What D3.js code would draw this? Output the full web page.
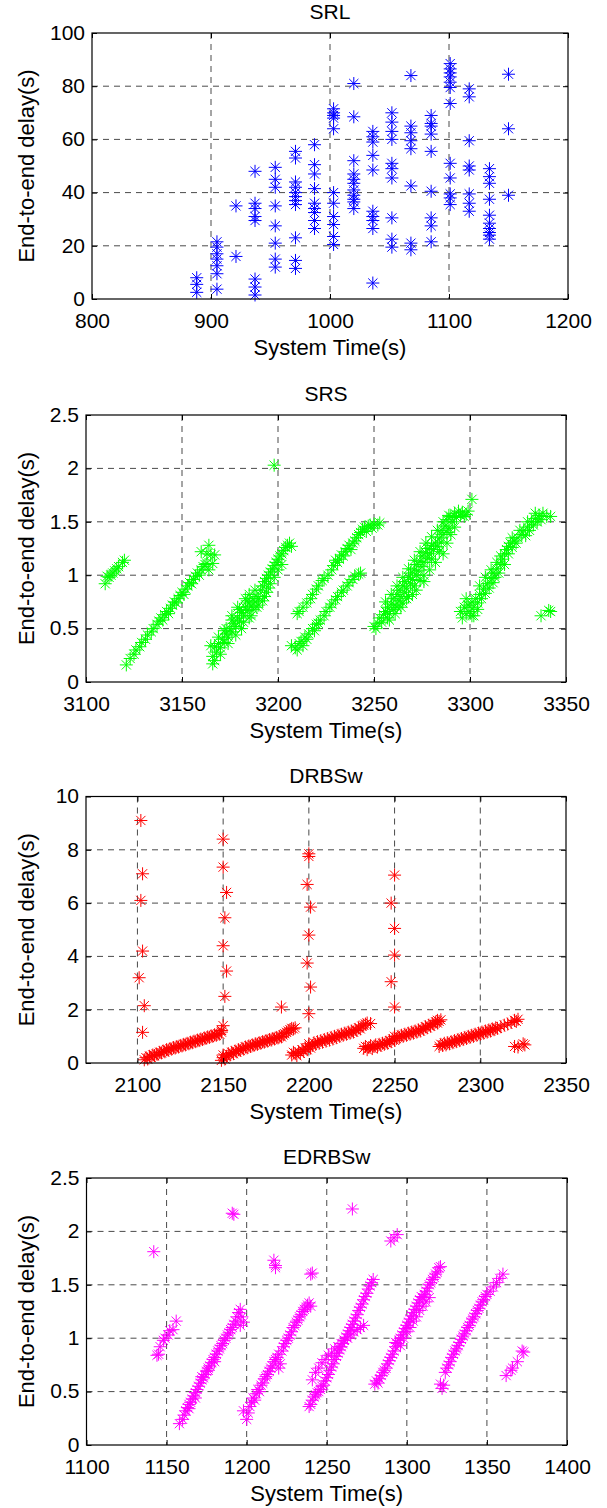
<!DOCTYPE html>
<html><head><meta charset="utf-8">
<script src="https://cdn.jsdelivr.net/npm/d3@7/dist/d3.min.js"></script>
<style>
body{margin:0;background:#fff}
svg{display:block}
text{font-family:"Liberation Sans",Arial,Helvetica,sans-serif;fill:#000}
</style></head><body>
<svg id="c" width="607" height="1508"></svg>
<script>
// ---------------- DATA ----------------
// SRL: points grouped by sending instant (columns)
const srlColumnTimes = [888, 905, 921, 937, 954, 971, 987, 1003, 1020, 1036, 1052, 1068, 1085, 1101, 1117, 1134, 1150];
const srlColumnDelays = [
  [8, 5.5, 2.5],
  [21.5, 19.5, 17, 15, 12.5, 9.5, 3.7],
  [35, 16],
  [48, 36, 34, 31, 29.5, 7.5, 4.5, 1.5],
  [49.5, 45, 42, 35, 27.5, 21, 15, 12],
  [55.5, 53, 44, 42, 40, 38.5, 37, 35.5, 23, 14.5, 11.5],
  [58, 50.5, 47, 41.5, 36, 34, 32.5, 29.5, 26.5],
  [71.5, 70, 69, 68, 64, 40, 36, 31, 28, 23.5, 20.5],
  [81, 68.5, 52, 47, 45, 43.5, 41, 39, 37.5, 36.5, 34],
  [63, 61, 59, 54, 48.5, 33, 31, 29.5, 26.5, 6],
  [70, 66.5, 63, 60, 51, 49, 45.5, 30.5, 22.5, 19.5],
  [84, 65, 62.5, 59.5, 56.5, 42.5, 21, 18.5],
  [69, 66, 65, 62, 55.5, 40.5, 30.5, 27.5, 21.5],
  [88.5, 86.5, 85, 83.5, 81.5, 79.5, 73.5, 51, 45.5, 39.5, 38, 35.5],
  [79, 76, 59.5, 50, 48.5, 39.5, 36, 33],
  [49, 46, 43.5, 37.5, 31.5, 28.5, 26.5, 25, 24, 22.5],
  [84.5, 64, 39]
];

// SRS: [system time, delay]
const srsPoints = [
  [3110,0.92],[3112,0.98],[3113,1.0],[3114,1.02],[3116,1.06],[3117,1.08],[3119,1.12],[3120,1.14],[3111,0.99],[3115,1.04],
  [3121,0.16],[3123,0.22],[3125,0.26],[3126,0.3],[3128,0.33],[3129,0.37],[3131,0.4],[3132,0.44],[3134,0.47],[3135,0.5],
  [3137,0.54],[3138,0.57],[3139,0.6],[3141,0.63],[3142,0.66],[3144,0.69],[3145,0.72],[3146,0.75],[3148,0.78],[3149,0.81],
  [3150,0.84],[3152,0.87],[3153,0.9],[3154,0.93],[3156,0.96],[3157,0.99],[3158,1.02],[3160,1.05],[3161,1.08],[3162,1.1],
  [3140,0.58],[3143,0.64],[3147,0.74],[3151,0.82],[3155,0.92],[3159,1.0],
  [3160,1.22],[3163,1.2],[3164,1.28],[3165,1.19],[3167,1.19],[3163,1.11],[3166,1.11],[3164,1.05],
  [3166,0.17],[3167,0.2],[3166,0.24],[3165,0.34],[3167,0.33],[3168,0.28],[3169,0.36],[3170,0.32],[3171,0.4],[3172,0.37],
  [3173,0.45],[3174,0.42],[3175,0.5],[3176,0.47],[3177,0.55],[3178,0.52],[3179,0.6],[3180,0.57],[3181,0.65],[3182,0.62],
  [3183,0.7],[3184,0.67],[3185,0.74],[3186,0.71],[3187,0.78],[3188,0.75],[3189,0.8],[3190,0.78],[3191,0.86],[3192,0.9],
  [3193,0.94],[3194,0.97],[3195,1.0],[3196,1.03],[3197,1.06],[3198,1.09],[3199,1.12],[3200,1.15],[3201,1.18],[3202,1.2],
  [3203,1.23],[3204,1.26],[3205,1.28],[3206,1.3],[3207,1.27],[3172,0.48],[3176,0.58],[3180,0.68],[3184,0.76],[3187,0.68],
  [3190,0.72],[3193,0.8],[3195,0.88],[3182,0.56],[3186,0.62],[3178,0.44],[3174,0.36],[3170,0.26],
  [3176,0.62],[3179,0.7],[3183,0.78],[3185,0.82],[3188,0.86],[3181,0.5],[3185,0.6],[3189,0.7],[3192,0.76],[3194,0.84],
  [3196,0.92],[3198,0.98],[3200,1.05],[3202,1.1],[3173,0.5],[3169,0.42],
  [3207,0.34],[3209,0.32],[3210,0.3],[3211,0.36],[3212,0.38],[3213,0.34],[3214,0.42],[3215,0.4],[3216,0.45],[3218,0.5],
  [3219,0.48],[3220,0.54],[3221,0.55],[3222,0.58],[3224,0.62],[3225,0.66],[3227,0.7],[3228,0.73],[3230,0.77],[3231,0.8],
  [3233,0.84],[3234,0.86],[3236,0.9],[3237,0.93],[3239,0.96],[3240,0.99],[3242,1.01],[3243,1.02],
  [3210,0.64],[3211,0.66],[3213,0.7],[3215,0.74],[3217,0.78],[3218,0.82],[3220,0.87],[3221,0.9],[3223,0.95],[3224,0.97],
  [3226,1.0],[3228,1.05],[3229,1.09],[3231,1.12],[3232,1.15],[3233,1.19],[3235,1.22],[3236,1.25],[3237,1.28],[3239,1.3],
  [3240,1.32],[3241,1.35],[3242,1.38],[3243,1.4],[3244,1.43],[3245,1.45],[3246,1.41],[3247,1.46],[3248,1.47],[3249,1.44],
  [3250,1.48],[3252,1.47],[3253,1.49],[3238,1.24],[3234,1.18],[3230,1.14],
  [3250,0.52],[3251,0.5],[3252,0.55],[3253,0.6],[3254,0.56],[3255,0.63],[3256,0.66],[3257,0.6],[3257,0.7],[3258,0.64],
  [3259,0.73],[3260,0.68],[3260,0.78],[3261,0.72],[3262,0.82],[3263,0.76],[3263,0.86],[3264,0.8],[3265,0.9],[3266,0.84],
  [3266,0.94],[3267,0.88],[3268,0.98],[3269,0.92],[3269,1.02],[3270,0.96],[3271,1.05],[3272,1.0],[3272,1.1],[3273,1.04],
  [3274,1.13],[3275,1.08],[3275,1.18],[3276,1.12],[3277,1.21],[3278,1.16],[3278,1.25],[3279,1.2],[3280,1.28],[3281,1.24],
  [3282,1.3],[3283,1.27],[3284,1.35],[3285,1.31],[3285,1.42],[3286,1.38],[3287,1.46],[3288,1.4],[3288,1.52],[3289,1.44],
  [3290,1.55],[3291,1.5],[3292,1.58],[3293,1.54],[3294,1.6],[3295,1.56],[3296,1.59],[3297,1.55],[3298,1.57],[3299,1.6],
  [3301,1.71],[3262,0.7],[3267,0.78],[3271,0.9],[3276,1.0],[3280,1.15],[3284,1.22],[3258,0.58],[3265,0.74],[3270,0.82],[3274,0.95],
  [3256,0.75],[3259,0.82],[3262,0.9],[3265,0.98],[3268,1.06],[3271,1.14],[3274,1.22],[3277,1.3],[3280,1.36],[3283,1.42],
  [3286,1.5],[3289,1.56],[3261,0.64],[3264,0.7],[3268,0.8],[3272,0.86],[3276,0.94],[3279,1.05],[3282,1.12],[3286,1.2],
  [3288,1.3],[3290,1.38],[3292,1.45],
  [3295,0.66],[3296,0.6],[3297,0.7],[3298,0.64],[3299,0.72],[3300,0.66],[3301,0.62],[3301,0.75],[3302,0.7],[3303,0.78],
  [3304,0.74],[3305,0.82],[3306,0.78],[3307,0.87],[3308,0.83],[3309,0.92],[3310,0.88],[3311,0.97],[3312,0.93],[3312,1.02],
  [3313,0.98],[3314,1.06],[3315,1.02],[3316,1.1],[3317,1.15],[3318,1.2],[3319,1.24],[3320,1.27],[3321,1.3],[3322,1.26],
  [3323,1.32],[3324,1.3],[3325,1.35],[3327,1.38],[3328,1.42],[3329,1.37],[3330,1.45],[3331,1.42],[3332,1.5],[3333,1.47],
  [3334,1.53],[3335,1.5],[3336,1.56],[3337,1.52],[3338,1.58],[3340,1.55],[3342,1.55],
  [3305,0.9],[3308,0.98],[3311,1.05],[3314,1.12],[3318,1.1],[3316,1.18],[3320,1.2],[3322,1.35],[3326,1.42],[3330,1.5],
  [3334,1.58],[3298,0.78],[3302,0.62],[3304,0.68],
  [3337,0.62],[3341,0.67],[3342,0.66],
  [3198,2.03]
];

// DRBSw: [system time, delay]
const drbswPoints = [
  [2102,9.1],[2103,7.1],[2102,6.1],[2103,4.2],[2101,3.2],[2104,2.15],[2103,1.15],
  [2150,8.4],[2150,7.35],[2152,6.4],[2151,5.45],[2150,4.4],[2152,3.45],[2151,2.5],[2150,1.4],
  [2200,7.85],[2200,7.75],[2199,6.7],[2201,5.85],[2200,4.8],[2199,3.75],[2201,2.85],[2200,1.85],
  [2250,7.05],[2248,6.0],[2250,5.05],[2250,4.05],[2248,3.05],[2250,2.1],
  [2184,2.1],
  [2104,0.12],[2105,0.2],[2106,0.15],[2107,0.25],[2108,0.22],[2109,0.3],[2110,0.28],[2111,0.34],[2112,0.32],[2113,0.4],
  [2114,0.38],[2115,0.45],[2116,0.42],[2117,0.5],[2118,0.48],[2119,0.54],[2120,0.52],[2121,0.58],[2122,0.56],[2123,0.62],
  [2124,0.6],[2125,0.66],[2126,0.64],[2127,0.7],[2128,0.68],[2129,0.74],[2130,0.72],[2131,0.78],[2132,0.76],[2133,0.82],
  [2134,0.8],[2135,0.86],[2136,0.84],[2137,0.9],[2138,0.88],[2139,0.94],[2140,0.92],[2141,0.98],[2142,0.96],[2143,1.02],
  [2144,1.0],[2145,1.06],[2146,1.04],[2147,1.1],[2148,1.08],[2149,1.16],[2149,1.22],
  [2149,0.1],[2150,0.2],[2150,0.3],[2151,0.15],[2152,0.25],[2153,0.35],[2154,0.3],[2155,0.4],[2156,0.35],[2157,0.45],
  [2158,0.42],[2159,0.5],[2160,0.47],[2161,0.55],[2162,0.52],[2163,0.6],[2164,0.57],[2165,0.64],[2166,0.62],[2167,0.68],
  [2168,0.66],[2169,0.72],[2170,0.7],[2171,0.76],[2172,0.74],[2173,0.8],[2174,0.78],[2175,0.84],[2176,0.82],[2177,0.88],
  [2178,0.86],[2179,0.92],[2180,0.9],[2181,0.96],[2182,0.94],[2183,1.0],[2184,0.98],[2185,1.05],[2186,1.1],[2187,1.15],
  [2188,1.2],[2189,1.25],[2190,1.3],[2191,1.28],[2192,1.32],
  [2190,0.3],[2191,0.4],[2192,0.35],[2193,0.28],[2194,0.42],[2195,0.36],[2196,0.5],[2197,0.44],[2198,0.56],[2199,0.5],
  [2200,0.62],[2200,0.72],[2201,0.56],[2202,0.66],[2203,0.76],[2204,0.7],[2205,0.8],[2206,0.74],[2207,0.84],[2208,0.78],
  [2209,0.88],[2210,0.82],[2211,0.92],[2212,0.86],[2213,0.96],[2214,0.9],[2215,1.0],[2216,0.95],[2217,1.04],[2218,1.0],
  [2219,1.08],[2220,1.04],[2221,1.12],[2222,1.08],[2223,1.16],[2224,1.12],[2225,1.2],[2226,1.16],[2227,1.26],[2228,1.22],
  [2229,1.32],[2230,1.28],[2231,1.38],[2232,1.42],[2233,1.46],[2234,1.5],[2236,1.48],
  [2232,0.55],[2233,0.62],[2234,0.5],[2235,0.58],[2236,0.65],[2237,0.54],[2238,0.62],[2239,0.68],[2240,0.6],[2241,0.7],
  [2242,0.66],[2243,0.74],[2244,0.7],[2245,0.78],[2246,0.74],[2247,0.84],[2248,0.8],[2249,0.9],[2250,0.85],[2250,1.0],
  [2251,0.92],[2252,1.0],[2253,0.96],[2254,1.04],[2255,1.0],[2256,1.08],[2257,1.04],[2258,1.12],[2259,1.08],[2260,1.16],
  [2261,1.12],[2262,1.2],[2263,1.16],[2264,1.24],[2265,1.2],[2266,1.3],[2267,1.26],[2268,1.36],[2269,1.32],[2270,1.42],
  [2271,1.38],[2272,1.48],[2273,1.44],[2274,1.54],[2275,1.5],[2275,1.6],[2276,1.56],[2277,1.62],
  [2276,0.62],[2277,0.7],[2278,0.66],[2279,0.74],[2280,0.68],[2281,0.76],[2282,0.72],[2283,0.8],[2284,0.76],[2285,0.84],
  [2286,0.8],[2287,0.88],[2288,0.84],[2289,0.92],[2290,0.88],[2291,0.96],[2292,0.92],[2293,1.0],[2294,0.96],[2295,1.04],
  [2296,1.0],[2297,1.08],[2298,1.04],[2299,1.12],[2300,1.08],[2301,1.16],[2302,1.12],[2303,1.2],[2304,1.16],[2305,1.24],
  [2306,1.2],[2307,1.28],[2308,1.25],[2309,1.32],[2310,1.3],[2312,1.36],[2314,1.42],[2316,1.46],[2318,1.52],[2320,1.6],
  [2321,1.56],[2322,1.64],[2320,0.62],[2322,0.6],[2325,0.72],[2326,0.68]
];

// EDRBSw: [system time, delay]
const edrbswPoints = [
  [1142,1.81],[1191,2.17],[1192,2.16],[1217,1.73],[1218,1.68],[1218,1.66],[1241,1.61],[1240,1.6],[1266,2.21],
  [1290,1.91],[1292,1.94],[1294,1.97],
  [1144,0.84],[1145,0.85],[1146,0.92],[1148,0.98],[1149,1.0],[1151,1.03],[1152,1.07],[1154,1.08],[1156,1.16],
  [1158,0.2],[1160,0.24],[1161,0.28],[1162,0.32],[1163,0.35],[1164,0.38],[1165,0.4],[1166,0.43],[1167,0.46],[1168,0.49],
  [1169,0.52],[1170,0.55],[1171,0.58],[1172,0.61],[1173,0.63],[1174,0.66],[1175,0.69],[1176,0.72],[1177,0.74],[1178,0.77],
  [1179,0.8],[1180,0.82],[1181,0.85],[1182,0.88],[1183,0.9],[1184,0.93],[1185,0.95],[1186,0.98],[1187,1.0],[1188,1.03],
  [1189,1.05],[1190,1.08],[1191,1.1],[1192,1.13],[1193,1.16],[1194,1.2],[1195,1.24],[1196,1.27],[1197,1.2],[1198,1.15],
  [1196,1.12],[1172,0.64],[1176,0.7],[1180,0.78],[1168,0.44],[1164,0.34],
  [1198,0.32],[1200,0.24],[1201,0.3],[1202,0.36],[1203,0.4],[1204,0.44],[1205,0.42],[1206,0.48],[1207,0.52],[1208,0.5],
  [1209,0.56],[1210,0.58],[1211,0.62],[1212,0.64],[1213,0.66],[1214,0.69],[1215,0.72],[1216,0.74],[1217,0.78],[1218,0.8],
  [1219,0.82],[1220,0.85],[1220,0.72],[1221,0.76],[1222,0.88],[1223,0.92],[1224,0.95],[1225,0.98],[1226,1.0],[1227,1.03],
  [1228,1.06],[1229,1.1],[1230,1.12],[1231,1.15],[1232,1.17],[1233,1.2],[1234,1.22],[1235,1.25],[1236,1.27],[1237,1.29],
  [1238,1.31],[1239,1.33],[1240,1.3],
  [1239,0.36],[1240,0.38],[1241,0.42],[1242,0.45],[1243,0.47],[1244,0.49],[1245,0.5],[1246,0.52],[1247,0.55],[1248,0.56],
  [1249,0.6],[1250,0.63],[1251,0.66],[1252,0.7],[1253,0.73],[1254,0.76],[1255,0.8],[1256,0.83],[1257,0.86],[1258,0.89],
  [1259,0.92],[1260,0.95],[1261,0.98],[1262,1.01],[1263,1.04],[1264,1.07],[1265,1.1],[1266,1.13],[1267,1.16],[1268,1.19],
  [1269,1.22],[1270,1.26],[1271,1.29],[1272,1.32],[1273,1.36],[1274,1.39],[1275,1.42],[1276,1.46],[1277,1.49],[1278,1.52],[1279,1.55],
  [1241,0.61],[1243,0.68],[1245,0.72],[1247,0.77],[1249,0.8],[1251,0.84],[1253,0.86],[1255,0.9],[1257,0.92],[1259,0.95],
  [1261,0.98],[1263,1.0],[1265,1.03],[1267,1.06],[1269,1.08],[1271,1.1],[1273,1.12],
  [1280,0.57],[1281,0.6],[1282,0.58],[1283,0.62],[1284,0.65],[1285,0.68],[1286,0.7],[1287,0.72],[1288,0.76],[1289,0.79],
  [1290,0.82],[1291,0.85],[1292,0.88],[1293,0.92],[1294,0.95],[1295,0.98],[1296,1.0],[1297,1.03],[1298,1.06],[1299,1.09],
  [1300,1.12],[1301,1.15],[1302,1.18],[1303,1.21],[1304,1.24],[1305,1.27],[1306,1.3],[1307,1.33],[1308,1.36],[1309,1.39],
  [1310,1.38],[1311,1.41],[1312,1.44],[1313,1.47],[1314,1.5],[1315,1.52],[1316,1.55],[1317,1.57],[1318,1.6],[1319,1.62],
  [1320,1.66],[1321,1.67],[1293,0.96],[1296,0.93],[1298,1.0],[1300,1.06],[1302,1.1],[1304,1.16],[1306,1.2],[1308,1.26],
  [1310,1.3],[1312,1.34],[1314,1.38],
  [1321,0.57],[1322,0.53],[1323,0.56],[1324,0.68],[1325,0.72],[1326,0.75],[1327,0.78],[1328,0.82],[1329,0.85],[1330,0.88],
  [1331,0.9],[1332,0.93],[1333,0.96],[1334,0.99],[1335,1.02],[1336,1.04],[1337,1.07],[1338,1.1],[1339,1.12],[1340,1.15],
  [1341,1.18],[1342,1.2],[1343,1.23],[1344,1.26],[1345,1.28],[1346,1.31],[1347,1.34],[1348,1.36],[1349,1.39],[1350,1.41],
  [1352,1.44],[1354,1.48],[1356,1.52],[1358,1.56],[1360,1.6],
  [1362,0.65],[1365,0.7],[1366,0.72],[1369,0.78],[1372,0.88],[1373,0.87]
];

// Tick values
const srlXTicks = [800, 900, 1000, 1100, 1200];
const srlYTicks = [0, 20, 40, 60, 80, 100];
const srsXTicks = [3100, 3150, 3200, 3250, 3300, 3350];
const srsYTicks = [0, 0.5, 1, 1.5, 2, 2.5];
const drbswXTicks = [2100, 2150, 2200, 2250, 2300, 2350];
const drbswYTicks = [0, 2, 4, 6, 8, 10];
const edrbswXTicks = [1100, 1150, 1200, 1250, 1300, 1350, 1400];
const edrbswYTicks = [0, 0.5, 1, 1.5, 2, 2.5];

const titles = ["SRL", "SRS", "DRBSw", "EDRBSw"];
const xLabel = "System Time(s)";
const yLabel = "End-to-end delay(s)";

// ---------------- DRAW ----------------
const srlPoints = [];
srlColumnTimes.forEach((t, i) => srlColumnDelays[i].forEach(d => srlPoints.push([t, d])));

const panels = [
  {title: titles[0], pts: srlPoints, color: "#0000ff", xDom: [800, 1200], yDom: [0, 100], xt: srlXTicks, yt: srlYTicks, L: 92, R: 568, T: 33, B: 299},
  {title: titles[1], pts: srsPoints, color: "#00ff00", xDom: [3100, 3350], yDom: [0, 2.5], xt: srsXTicks, yt: srsYTicks, L: 86, R: 566, T: 415, B: 682},
  {title: titles[2], pts: drbswPoints, color: "#ff0000", xDom: [2070, 2350], yDom: [0, 10], xt: drbswXTicks, yt: drbswYTicks, L: 86, R: 566, T: 796.5, B: 1063},
  {title: titles[3], pts: edrbswPoints, color: "#ff00ff", xDom: [1100, 1400], yDom: [0, 2.5], xt: edrbswXTicks, yt: edrbswYTicks, L: 86.5, R: 567, T: 1178, B: 1445}
];

const svg = d3.select("#c");
const FS = 22;      // label / title size
const TFS = 21;     // tick label size
const star = "M-6.5,0H6.5M0,-6.5V6.5M-4.6,-4.6L4.6,4.6M-4.6,4.6L4.6,-4.6";

panels.forEach(p => {
  const x = d3.scaleLinear().domain(p.xDom).range([p.L, p.R]);
  const y = d3.scaleLinear().domain(p.yDom).range([p.B, p.T]);
  const g = svg.append("g");

  // grid
  g.append("g").selectAll("line").data(p.xt.filter(v => x(v) > p.L + 1 && x(v) < p.R - 1)).join("line")
    .attr("x1", d => x(d)).attr("x2", d => x(d)).attr("y1", p.T).attr("y2", p.B)
    .attr("stroke", "#4a4a4a").attr("stroke-width", 1).attr("stroke-dasharray", "6,5");
  g.append("g").selectAll("line").data(p.yt.filter(v => y(v) > p.T + 1 && y(v) < p.B - 1)).join("line")
    .attr("x1", p.L).attr("x2", p.R).attr("y1", d => y(d)).attr("y2", d => y(d))
    .attr("stroke", "#4a4a4a").attr("stroke-width", 1).attr("stroke-dasharray", "6,5");

  // markers
  g.append("g").selectAll("path").data(p.pts).join("path")
    .attr("transform", d => `translate(${x(d[0])},${y(d[1])})`)
    .attr("d", star).attr("fill", "none").attr("stroke", p.color).attr("stroke-width", 1);

  // axes
  const fmt = d => String(d);
  const ax = g.append("g").attr("transform", `translate(0,${p.B})`)
    .call(d3.axisBottom(x).tickValues(p.xt).tickFormat(fmt).tickSizeInner(-5).tickSizeOuter(0).tickPadding(14.5));
  const ay = g.append("g").attr("transform", `translate(${p.L},0)`)
    .call(d3.axisLeft(y).tickValues(p.yt).tickFormat(fmt).tickSizeInner(-5).tickSizeOuter(0).tickPadding(7));
  const at = g.append("g").attr("transform", `translate(0,${p.T})`)
    .call(d3.axisTop(x).tickValues(p.xt).tickFormat("").tickSizeInner(-5).tickSizeOuter(0));
  const ar = g.append("g").attr("transform", `translate(${p.R},0)`)
    .call(d3.axisRight(y).tickValues(p.yt).tickFormat("").tickSizeInner(-5).tickSizeOuter(0));
  [ax, ay, at, ar].forEach(a => {
    a.select(".domain").remove();
    a.selectAll("line").attr("stroke", "#000");
    a.selectAll("text").attr("font-size", TFS).attr("font-family", null);
  });
  ay.selectAll("text").attr("dy", "0.3em");

  // box
  g.append("rect").attr("x", p.L).attr("y", p.T).attr("width", p.R - p.L).attr("height", p.B - p.T)
    .attr("fill", "none").attr("stroke", "#000").attr("stroke-width", 1.2);

  // title and labels
  g.append("text").attr("x", (p.L + p.R) / 2).attr("y", p.T - 14).attr("text-anchor", "middle")
    .attr("font-size", 21).text(p.title);
  g.append("text").attr("x", (p.L + p.R) / 2).attr("y", p.B + 56).attr("text-anchor", "middle")
    .attr("font-size", FS).text(xLabel);
  g.append("text").attr("transform", `translate(34,${(p.T + p.B) / 2}) rotate(-90)`).attr("text-anchor", "middle")
    .attr("font-size", FS).text(yLabel);
});
</script>
</body></html>
